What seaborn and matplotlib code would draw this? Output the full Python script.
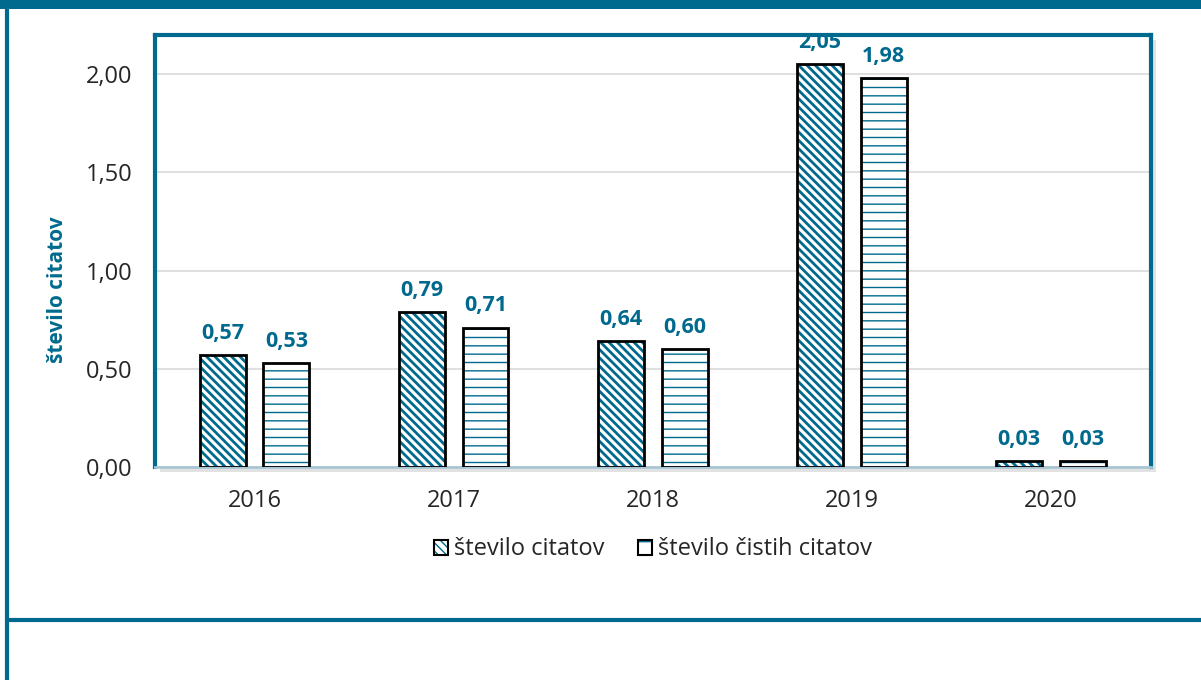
import seaborn as sns
import pandas as pd
import matplotlib.pyplot as plt
from matplotlib.patches import Rectangle, Patch
from matplotlib.lines import Line2D

years = ["2016", "2017", "2018", "2019", "2020"]
citations = [0.57, 0.79, 0.64, 2.05, 0.03]
clean_citations = [0.53, 0.71, 0.60, 1.98, 0.03]
series = ["število citatov", "število čistih citatov"]
yticks = [0.0, 0.5, 1.0, 1.5, 2.0]

TEAL = "#006a8e"
hatches = ["\\\\\\\\", "--"]
hatch_lw = [2.0, 1.0]

df = pd.DataFrame({"Leto": years, series[0]: citations, series[1]: clean_citations})
df_long = df.melt(id_vars="Leto", var_name="Serija", value_name="Vrednost")

sns.set_style("white")
plt.rcParams["font.family"] = ["Open Sans", "DejaVu Sans"]

fig = plt.figure(figsize=(12.01, 6.8), dpi=100)
ax = fig.add_axes([0.129, 0.313, 0.829, 0.636])
sns.barplot(data=df_long, x="Leto", y="Vrednost", hue="Serija", order=years,
            hue_order=series, width=0.64, gap=0.28, palette=["white", "white"],
            saturation=1, errorbar=None, legend=False, ax=ax)

for i, cont in enumerate(ax.containers):
    for bar in cont:
        bar.set_facecolor("white")
        bar.set_hatch(hatches[i])
        bar.set_edgecolor(TEAL)
        bar.set_linewidth(0)
        if hasattr(bar, "set_hatch_linewidth"):
            bar.set_hatch_linewidth(hatch_lw[i])
        else:
            bar._hatch_linewidth = hatch_lw[i]
        ax.add_patch(Rectangle(bar.get_xy(), bar.get_width(), bar.get_height(),
                               fill=False, edgecolor="black", linewidth=2, zorder=3))
    vals = [b.get_height() for b in cont]
    ax.bar_label(cont, labels=[f"{v:.2f}".replace(".", ",") for v in vals],
                 padding=8, color=TEAL, fontweight="bold", fontsize=15.5)

ax.set_ylim(0, 2.2)
ax.set_yticks(yticks)
ax.set_yticklabels([f"{t:.2f}".replace(".", ",") for t in yticks])
ax.yaxis.grid(True, color="#d9d9d9", linewidth=1.2)
ax.set_axisbelow(True)
ax.tick_params(length=0, labelsize=17, pad=16)
ax.set_xlabel("")
ax.set_ylabel("število citatov", color=TEAL, fontweight="bold", fontsize=15)
ax.yaxis.set_label_coords(-0.087, 0.41)

for side in ["top", "left", "right"]:
    ax.spines[side].set_color(TEAL)
    ax.spines[side].set_linewidth(3)
ax.spines["bottom"].set_color("#a9c6d6")
ax.spines["bottom"].set_linewidth(2)

handles = [
    (Patch(facecolor="white", edgecolor=TEAL, hatch="\\\\\\\\", linewidth=0),
     Patch(fill=False, edgecolor="black", linewidth=1.5)),
    (Patch(facecolor="white", edgecolor=TEAL, hatch="-", linewidth=0),
     Patch(fill=False, edgecolor="black", linewidth=1.5)),
]
ax.legend(handles, series, loc="center", bbox_to_anchor=(0.5, -0.19), ncol=2,
          frameon=False, fontsize=17, handlelength=0.6, handleheight=0.6,
          handletextpad=0.25, columnspacing=1.4)

# shadow behind the plot area
x0, y0, w, h = ax.get_position().bounds
fig.add_artist(Rectangle((x0 + 5 / 1201, y0 - 5 / 680), w, h, transform=fig.transFigure,
                         facecolor="#e2e2e2", edgecolor="none", zorder=-1))

# page decoration
fig.add_artist(Rectangle((0, 1 - 9 / 680), 1, 9 / 680, transform=fig.transFigure,
                         facecolor=TEAL, edgecolor="none"))
fig.add_artist(Line2D([6.5 / 1201, 6.5 / 1201], [0, 1], transform=fig.transFigure,
                      color=TEAL, linewidth=3))
fig.add_artist(Line2D([6.5 / 1201, 1], [1 - 620 / 680, 1 - 620 / 680], transform=fig.transFigure,
                      color=TEAL, linewidth=3))

fig.savefig("out.png", dpi=100)
